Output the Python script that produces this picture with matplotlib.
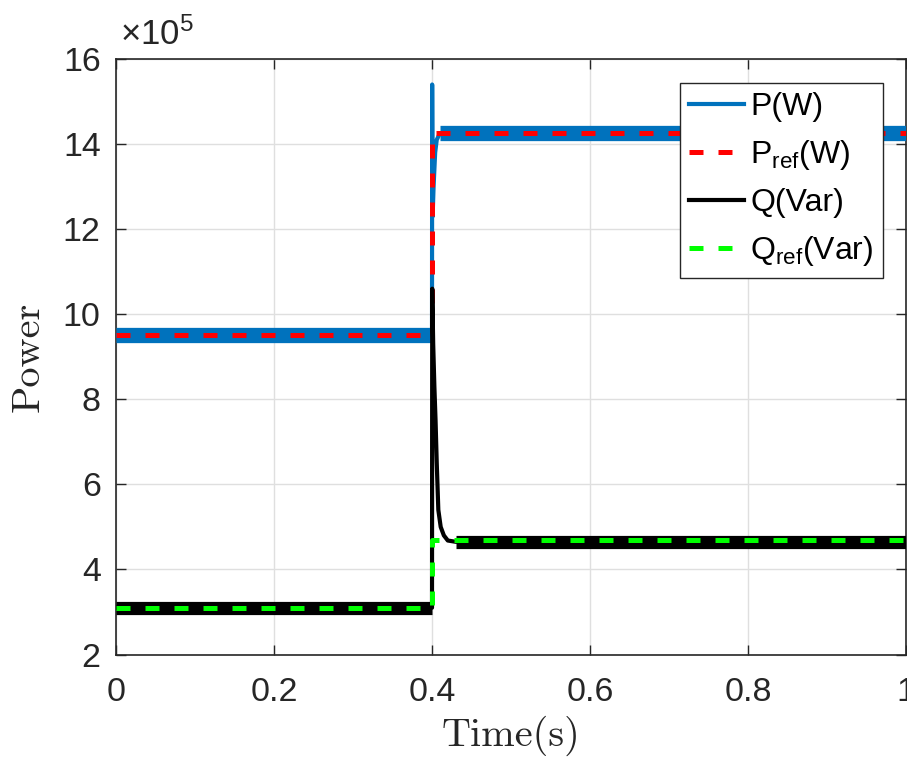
import matplotlib
matplotlib.use("Agg")
import matplotlib.pyplot as plt
import numpy as np

plt.rcParams['font.family'] = ['Liberation Sans', 'DejaVu Sans']
plt.rcParams['mathtext.fontset'] = 'custom'
plt.rcParams['mathtext.rm'] = 'Liberation Sans'
plt.rcParams['mathtext.it'] = 'Liberation Sans:italic'

# ---- data ----
t_p = [0.0, 0.4, 0.4002, 0.4008, 0.402, 0.404, 0.406, 0.41, 1.0]
p_w = [9.5e5, 9.5e5, 15.4e5, 12.3e5, 13.0e5, 13.8e5, 14.1e5, 14.25e5, 14.25e5]
t_pref = [0.0, 0.4, 0.4, 1.0]
p_ref = [9.5e5, 9.5e5, 14.25e5, 14.25e5]
t_q = [0.0, 0.4, 0.4003, 0.4015, 0.403, 0.4045, 0.406, 0.408, 0.411, 0.415, 0.42, 0.43, 1.0]
q_var = [3.1e5, 3.1e5, 10.6e5, 9.3e5, 8.3e5, 7.5e5, 6.5e5, 5.4e5, 5.0e5, 4.8e5, 4.68e5, 4.65e5, 4.65e5]
t_qref = [0.0, 0.4, 0.4, 1.0]
q_ref = [3.1e5, 3.1e5, 4.7e5, 4.7e5]
x_ticks = [0, 0.2, 0.4, 0.6, 0.8, 1.0]
x_ticklabels = ["0", "0.2", "0.4", "0.6", "0.8", "1"]
y_ticks = [2e5, 4e5, 6e5, 8e5, 10e5, 12e5, 14e5, 16e5]
y_ticklabels = ["2", "4", "6", "8", "10", "12", "14", "16"]
labels = ["P(W)", r"P$_{\rm ref}$(W)", "Q(Var)", r"Q$_{\rm ref}$(Var)"]

# steady-state noise band indices (segments drawn as a thick band)
p_steady = [(0, 2), (7, 9)]
q_steady = [(0, 2), (11, 13)]

fig = plt.figure(figsize=(9.07, 7.58), dpi=100)
ax = fig.add_axes([0.1279, 0.1365, 0.8710, 0.7857])

blue = '#0072BD'
ax.plot(t_p, p_w, color=blue, lw=3, label=labels[0], zorder=3)
for a, b in p_steady:
    ax.plot(t_p[a:b], p_w[a:b], color=blue, lw=11, solid_capstyle='butt', zorder=3)
ax.plot(t_pref, p_ref, color='#FF0000', lw=3.6, ls=(0, (2.8, 3.0)), label=labels[1], zorder=4)
ax.plot(t_q, q_var, color='black', lw=3, label=labels[2], zorder=5)
for a, b in q_steady:
    ax.plot(t_q[a:b], q_var[a:b], color='black', lw=9.5, solid_capstyle='butt', zorder=5)
ax.plot(t_qref, q_ref, color='#00FF00', lw=3.6, ls=(0, (2.8, 3.0)), label=labels[3], zorder=6)

ax.set_xlim(0, 1)
ax.set_ylim(2e5, 16e5)
ax.set_xticks(x_ticks)
ax.set_xticklabels(x_ticklabels)
ax.set_yticks(y_ticks)
ax.set_yticklabels(y_ticklabels)
ax.tick_params(direction='in', length=7, width=1, labelsize=24.5, colors='#262626',
               top=True, right=True)
ax.tick_params(axis='x', pad=16)
ax.tick_params(axis='y', pad=11)
ax.grid(True, color='#dfdfdf', lw=1)
ax.set_axisbelow(True)
for s in ax.spines.values():
    s.set_color('#262626')
    s.set_linewidth(1.2)

ax.set_xlabel('Time(s)', family='cmr10', fontsize=29, color='#262626', labelpad=6)
ax.set_ylabel('Power', family='cmr10', fontsize=29, color='#262626', labelpad=12)

ax.text(0.005, 1.012, r'$\times10^{5}$', transform=ax.transAxes, fontsize=25,
        color='#262626', ha='left', va='bottom')

handles, lbls = ax.get_legend_handles_labels()
leg = ax.legend(handles, lbls, loc='upper right', bbox_to_anchor=(0.971, 0.96),
                fontsize=23, frameon=True, fancybox=False, framealpha=1,
                edgecolor='#262626', handlelength=1.7, handletextpad=0.2,
                labelspacing=0.5, borderpad=0.3, borderaxespad=0)
leg.get_frame().set_linewidth(1.0)
for txt in leg.get_texts():
    txt.set_color('black')

fig.savefig('out.png', dpi=100)
